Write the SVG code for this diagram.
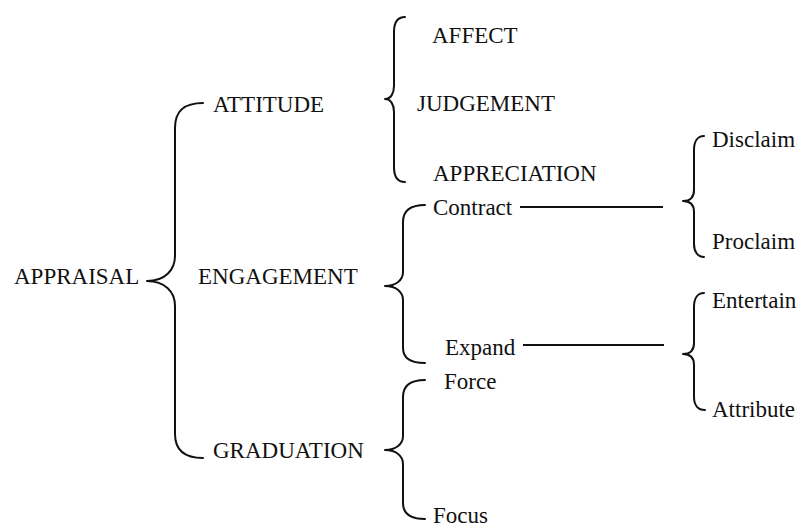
<svg xmlns="http://www.w3.org/2000/svg" width="798" height="529" viewBox="0 0 798 529">
<style>
text { font-family: "Liberation Serif", "Times New Roman", serif; font-size: 23px; fill: #111; }
.brace { fill: none; stroke: #111; stroke-width: 2; stroke-linecap: round; stroke-linejoin: round; }
.link { fill: none; stroke: #111; stroke-width: 2; }
</style>
<rect width="798" height="529" fill="#fff"/>
<g id="connectors">
  <path class="brace" d="M203,103 C185,103 175,110 175,128 L175,256 C175,270 165,281 147,281 C165,281 175,292 175,306 L175,434 C175,451 185,458 203,458"/>
  <path class="brace" d="M405,17 C398,17 394,22 394,32 L394,86 C394,93 391,99 385,99 C391,99 394,105 394,112 L394,167 C394,177 398,182 405,182"/>
  <path class="brace" d="M425,205 C410,205 403,211 403,222 L403,272 C403,280 396,286 385,286 C396,286 403,292 403,300 L403,348 C403,358 410,363 425,363"/>
  <path class="brace" d="M425,380 C410,380 403,386 403,397 L403,436 C403,444 396,450 385,450 C396,450 403,456 403,464 L403,503 C403,514 410,519 425,519"/>
  <path class="brace" d="M704,136 C698,136 694,141 694,150 L694,190 C694,197 690,201 683,201 C690,201 694,205 694,212 L694,244 C694,252 698,257 704,257"/>
  <path class="brace" d="M704,293 C698,293 694,298 694,307 L694,343 C694,350 690,354 683,354 C690,354 694,358 694,365 L694,397 C694,405 698,410 705,410"/>
  <line class="link" x1="520" y1="207" x2="663" y2="207"/>
  <line class="link" x1="523" y1="345" x2="664" y2="345"/>
</g>
<g id="appraisal"><text x="14" y="284">APPRAISAL</text></g>
<g id="attitude"><text x="213" y="112">ATTITUDE</text></g>
<g id="engagement"><text x="198" y="284">ENGAGEMENT</text></g>
<g id="graduation"><text x="213" y="458">GRADUATION</text></g>
<g id="affect"><text x="432" y="43">AFFECT</text></g>
<g id="judgement"><text x="417" y="111">JUDGEMENT</text></g>
<g id="appreciation"><text x="433" y="181">APPRECIATION</text></g>
<g id="contract"><text x="433" y="215">Contract</text></g>
<g id="expand"><text x="445" y="355">Expand</text></g>
<g id="force"><text x="444" y="389">Force</text></g>
<g id="focus"><text x="433" y="523">Focus</text></g>
<g id="disclaim"><text x="712" y="147">Disclaim</text></g>
<g id="proclaim"><text x="712" y="249">Proclaim</text></g>
<g id="entertain"><text x="712" y="308">Entertain</text></g>
<g id="attribute"><text x="712" y="417">Attribute</text></g>
</svg>
